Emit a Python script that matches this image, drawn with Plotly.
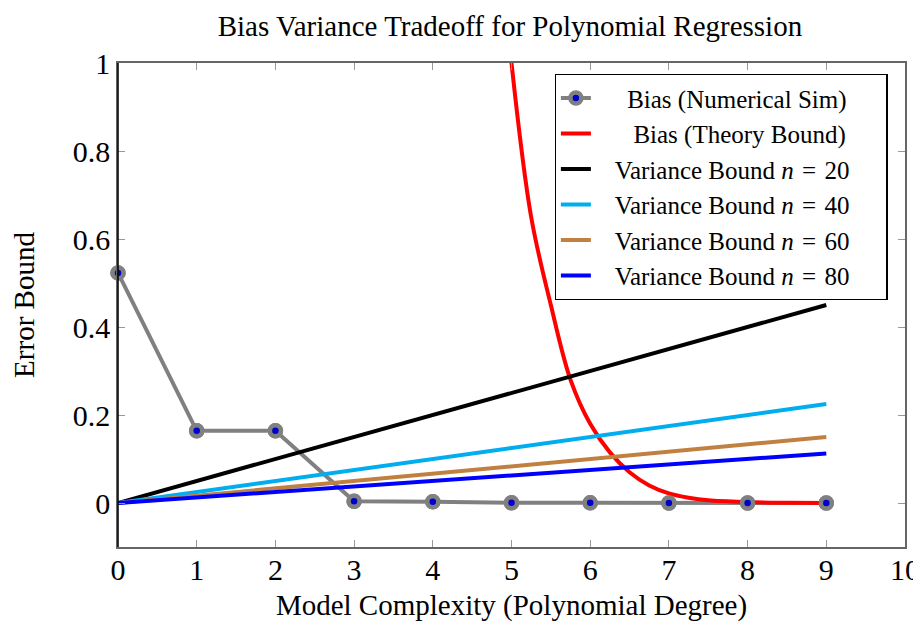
import plotly.graph_objects as go

degrees = [0, 1, 2, 3, 4, 5, 6, 7, 8, 9]
bias_sim = [0.523, 0.164, 0.164, 0.004, 0.003, 0.0005, 0.0003, 0.0002, 0.0001, 0.0]

theory_x = [4.9, 5.0, 5.25, 5.5, 5.75, 6.0, 6.25, 6.5, 6.75, 7.0, 7.25, 7.5, 8.0, 8.5, 9.0]
theory_y = [1.2, 1.0, 0.65, 0.45, 0.28, 0.18, 0.115, 0.07, 0.04, 0.022, 0.012, 0.006, 0.002, 0.0005, 0.0]

var_x = [0, 9]
var_n20 = [0.0, 0.45]
var_n40 = [0.0, 0.225]
var_n60 = [0.0, 0.15]
var_n80 = [0.0, 0.1125]

x_ticks = [0, 1, 2, 3, 4, 5, 6, 7, 8, 9, 10]
y_ticks = [0, 0.2, 0.4, 0.6, 0.8, 1]
y_tick_text = ["0", "0.2", "0.4", "0.6", "0.8", "1"]

SERIF = "Liberation Serif, Times New Roman, serif"
NB = "\u00a0"
PAD = NB * 3
TAIL = NB * 5
SP = "\u2004"

fig = go.Figure()
fig.add_trace(go.Scatter(
    x=degrees, y=bias_sim, mode="lines+markers",
    name=PAD + NB * 2 + "Bias (Numerical Sim)" + TAIL,
    line=dict(color="#808080", width=4),
    marker=dict(size=11, color="#0000cc", line=dict(color="#808080", width=4.5)),
    cliponaxis=False,
))
fig.add_trace(go.Scatter(
    x=theory_x, y=theory_y, mode="lines", line_shape="spline",
    name=PAD + NB * 3 + "Bias (Theory Bound)" + TAIL,
    line=dict(color="#ff0000", width=4),
))
for vals, col, n in [(var_n20, "#000000", 20), (var_n40, "#00aeef", 40),
                     (var_n60, "#bf8040", 60), (var_n80, "#0000ff", 80)]:
    fig.add_trace(go.Scatter(
        x=var_x, y=vals, mode="lines",
        name=PAD + f"Variance Bound <i>n</i>{SP}={SP}{n}" + TAIL,
        line=dict(color=col, width=4),
    ))

# re-draw markers on top
fig.add_trace(go.Scatter(
    x=degrees, y=bias_sim, mode="markers", showlegend=False,
    marker=dict(size=11, color="#0000cc", line=dict(color="#808080", width=4.5)),
    cliponaxis=False, hoverinfo="skip",
))

fig.update_layout(
    width=921, height=626,
    margin=dict(l=110, r=24, t=55, b=87, autoexpand=False),
    paper_bgcolor="white", plot_bgcolor="white",
    font=dict(family=SERIF, size=28, color="black"),
    title=dict(text="Bias Variance Tradeoff for Polynomial Regression",
               x=0.545, xanchor="center", y=0.972, yanchor="middle",
               font=dict(family=SERIF, size=29)),
    xaxis=dict(range=[0, 10], tickvals=x_ticks, ticks="inside", ticklen=7,
               tickcolor="#999999", showline=True, linecolor="#666666", linewidth=1.5,
               mirror="ticks", showgrid=False, zeroline=False,
               tickfont=dict(family=SERIF, size=30), ticklabelstandoff=-5,
               title=dict(text="Model Complexity (Polynomial Degree)", standoff=10,
                          font=dict(family=SERIF, size=29))),
    yaxis=dict(range=[-0.1, 1], tickvals=y_ticks, ticktext=y_tick_text, ticks="inside",
               ticklen=7, tickcolor="#999999", showline=True, linecolor="#666666",
               linewidth=1.5, mirror="ticks", showgrid=False, zeroline=False,
               tickfont=dict(family=SERIF, size=30),
               title=dict(text="Error Bound", standoff=30,
                          font=dict(family=SERIF, size=29))),
    legend=dict(x=0.978, xanchor="right", y=0.977, yanchor="top",
                bordercolor="black", borderwidth=1.2, bgcolor="white",
                font=dict(family=SERIF, size=25), tracegroupgap=0),
)
fig.add_shape(type="line", xref="paper", yref="paper", x0=0, x1=0, y0=0, y1=1,
              line=dict(color="black", width=1.5))

fig.write_html("out.html")
